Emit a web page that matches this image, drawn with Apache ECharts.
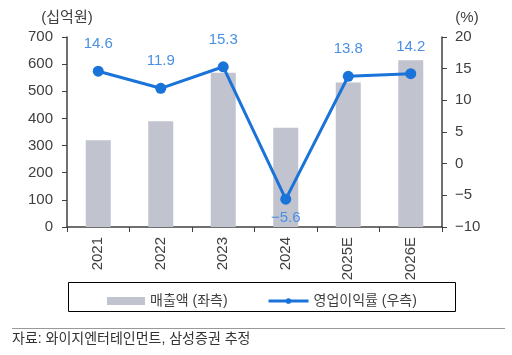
<!DOCTYPE html>
<html><head><meta charset="utf-8">
<script src="https://cdn.jsdelivr.net/npm/echarts@6/dist/echarts.min.js"></script>
<style>html,body{margin:0;padding:0;background:#fff}#c{width:512px;height:355px}</style>
</head><body><div id="c"></div>
<script>
const categories = ['2021','2022','2023','2024','2025E','2026E'];
const sales = [320, 390, 568, 366, 532, 614];
const margin = [14.6, 11.9, 15.3, -5.6, 13.8, 14.2];
const leftTicks = {min:0, max:700, interval:100};
const rightTicks = {min:-10, max:20, interval:5};
const FONT = '"Liberation Sans", Arial, "Noto Sans CJK KR", sans-serif';
const axisColor = '#404040';
const textColor = '#404040';
const chart = echarts.init(document.getElementById('c'), null, {renderer:'canvas'});
chart.setOption({
  animation:false,
  textStyle:{fontFamily:FONT},
  grid:{left:67, right:70, top:37, bottom:128},
  legend:[{
    left:102, top:289, itemGap:10, itemWidth:38, itemHeight:8,
    textStyle:{fontSize:14, color:textColor, fontFamily:FONT},
    data:[{name:'매출액 (좌측)', icon:'rect'}]
  },{
    left:262, top:289, itemGap:10, itemWidth:40, itemHeight:7,
    lineStyle:{width:3},
    textStyle:{fontSize:14, color:textColor, fontFamily:FONT},
    data:[{name:'영업이익률 (우측)'}]
  }],
  xAxis:{
    type:'category', data:categories,
    axisLine:{lineStyle:{color:axisColor, width:1.5}},
    axisTick:{show:true, alignWithLabel:false, length:5, lineStyle:{color:axisColor}},
    axisLabel:{rotate:90, fontSize:15, color:textColor, margin:10, fontFamily:FONT}
  },
  yAxis:[
    {type:'value', min:leftTicks.min, max:leftTicks.max, interval:leftTicks.interval,
     name:'(십억원)', nameLocation:'end', nameGap:12,
     nameTextStyle:{fontSize:15, color:textColor, align:'center', padding:[0,0,0,0], fontFamily:FONT},
     axisLine:{show:true, lineStyle:{color:axisColor, width:1.5}},
     axisTick:{show:true, length:5, lineStyle:{color:axisColor}},
     axisLabel:{fontSize:15, color:textColor, margin:14, fontFamily:FONT},
     splitLine:{show:false}},
    {type:'value', min:rightTicks.min, max:rightTicks.max, interval:rightTicks.interval,
     name:'(%)', nameLocation:'end', nameGap:12,
     nameTextStyle:{fontSize:15, color:textColor, align:'center', padding:[0,0,0,50], fontFamily:FONT},
     axisLine:{show:true, lineStyle:{color:axisColor, width:1.5}},
     axisTick:{show:true, length:5, lineStyle:{color:axisColor}},
     axisLabel:{fontSize:15, color:textColor, margin:13, fontFamily:FONT,
       formatter:v=> v<0 ? '\u2212'+Math.abs(v) : String(v)},
     splitLine:{show:false}}
  ],
  series:[
    {name:'매출액 (좌측)', type:'bar', data:sales, barWidth:25, yAxisIndex:0,
     itemStyle:{color:'#C1C3CF'}},
    {name:'영업이익률 (우측)', type:'line', data:margin.map((v,i)=>({
        value:v,
        label:{position: v<0 ? 'bottom':'top', distance: v<0 ? 6 : 14}
      })), yAxisIndex:1,
     symbol:'circle', symbolSize:11,
     lineStyle:{color:'#1A73D9', width:3}, itemStyle:{color:'#1A73D9'},
     label:{show:true, fontSize:15, color:'#4A90E2', fontFamily:FONT,
       formatter:p=> p.value<0 ? '\u2212'+Math.abs(p.value).toFixed(1) : p.value.toFixed(1)}}
  ],
  graphic:[
    {type:'rect', shape:{x:68.5, y:282.5, width:387, height:29}, style:{fill:'none', stroke:'#000', lineWidth:1}},
    {type:'line', shape:{x1:12, y1:328.5, x2:505, y2:328.5}, style:{stroke:'#999', lineWidth:1}},
    {type:'text', left:12, top:332, style:{text:'자료: 와이지엔터테인먼트, 삼성증권 추정', font:'14px '+FONT, fill:'#333'}}
  ]
});
</script></body></html>
